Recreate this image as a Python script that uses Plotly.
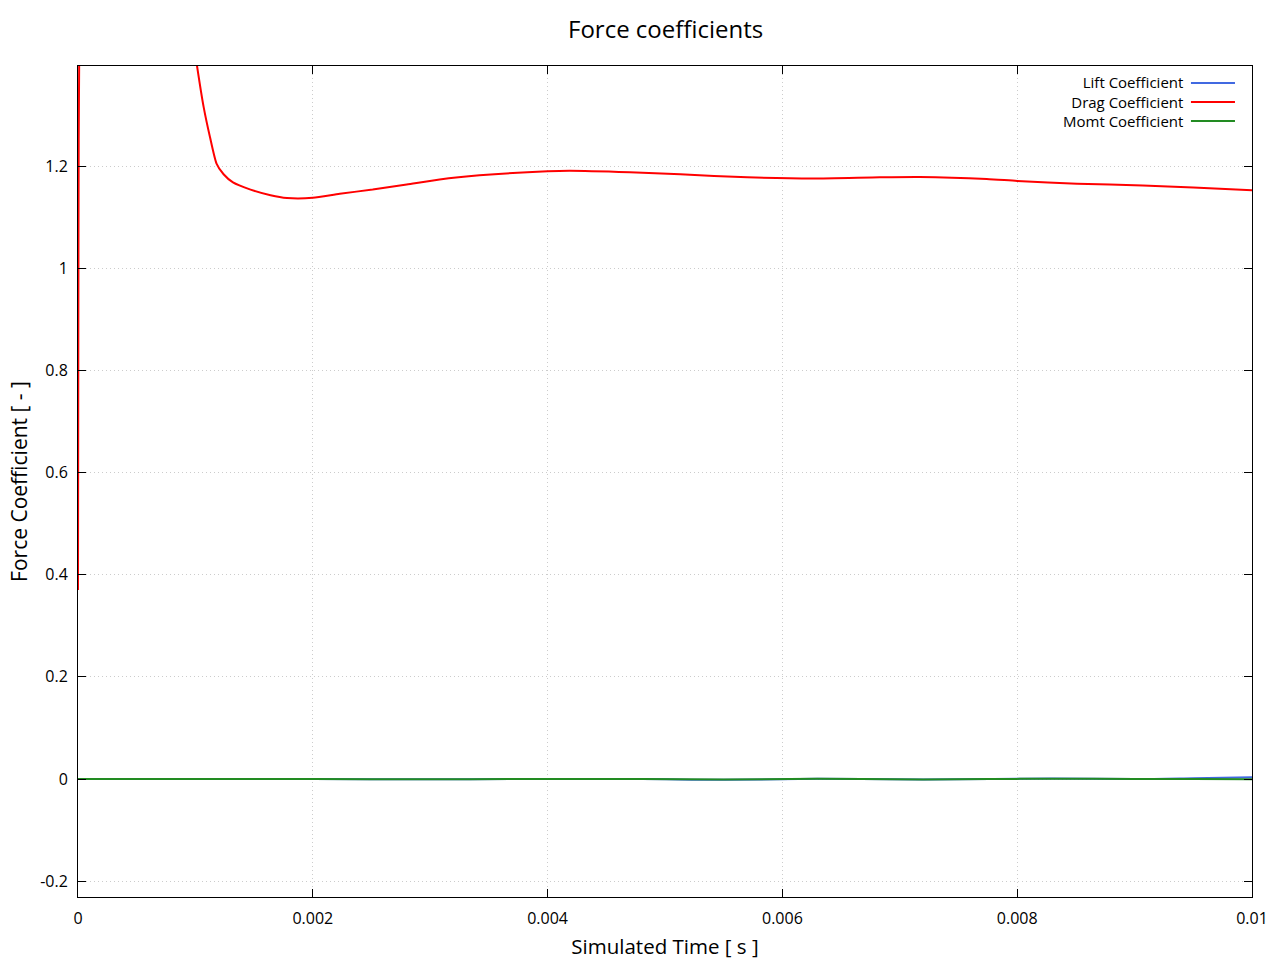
import plotly.graph_objects as go

# Drag coefficient
drag_t = [0.0, 0.000003, 0.000006, 0.00001, 0.00002, 0.00005, 0.0003, 0.0007, 0.00095,
          0.001014, 0.00107, 0.001124, 0.00118, 0.00124, 0.00132, 0.00147, 0.00164,
          0.00178, 0.0020, 0.00223, 0.00251, 0.0028, 0.00308, 0.00342, 0.0040,
          0.00419, 0.0047, 0.00513, 0.0057, 0.00626, 0.00683, 0.00717, 0.00774,
          0.0080, 0.00851, 0.00907, 0.0095, 0.0100]
drag_v = [0.37, 0.9, 1.25, 1.4, 1.8, 2.6, 2.4, 1.8, 1.5,
          1.396, 1.316, 1.257, 1.205, 1.184, 1.168, 1.154, 1.143,
          1.1376, 1.138, 1.146, 1.154, 1.164, 1.174, 1.182, 1.190,
          1.191, 1.188, 1.184, 1.178, 1.1755, 1.178, 1.1787, 1.1748,
          1.171, 1.1657, 1.162, 1.158, 1.1526]

# Lift and moment coefficients (near zero)
lm_t = [0.0, 0.001, 0.002, 0.003, 0.004, 0.0048, 0.0055, 0.0063, 0.0072,
        0.0078, 0.0083, 0.009, 0.0095, 0.0100]
lift_v = [0.0, 0.0, 0.0, -0.0005, 0.0, 0.0, -0.0015, 0.0003, -0.001,
          0.0, 0.0008, 0.0, 0.0015, 0.0035]
momt_v = [0.0, 0.0, 0.0, -0.0005, 0.0, 0.0, -0.001, 0.0003, -0.0008,
          0.0, 0.0005, 0.0, -0.0002, -0.0003]

x_ticks = [0, 0.002, 0.004, 0.006, 0.008, 0.01]
x_labels = ["0", "0.002", "0.004", "0.006", "0.008", "0.01"]
y_ticks = [-0.2, 0, 0.2, 0.4, 0.6, 0.8, 1, 1.2]
y_labels = ["-0.2", "0", "0.2", "0.4", "0.6", "0.8", "1", "1.2"]

series_names = ["Lift Coefficient", "Drag Coefficient", "Momt Coefficient"]
series_colors = ["#4169e1", "#ff0000", "#228b22"]

FONT = "Open Sans"

fig = go.Figure()
fig.add_trace(go.Scatter(x=lm_t, y=lift_v, mode="lines", name=series_names[0],
                         line=dict(color=series_colors[0], width=2, shape="spline"),
                         showlegend=False))
fig.add_trace(go.Scatter(x=drag_t, y=drag_v, mode="lines", name=series_names[1],
                         line=dict(color=series_colors[1], width=2, shape="spline", smoothing=0.6),
                         showlegend=False))
fig.add_trace(go.Scatter(x=lm_t, y=momt_v, mode="lines", name=series_names[2],
                         line=dict(color=series_colors[2], width=2, shape="spline"),
                         showlegend=False))

# Manual legend (text left of sample line, gnuplot style)
leg_y = [0.9795, 0.9567, 0.9338]
fig.add_annotation(xref="paper", yref="paper", x=0.9425, y=leg_y[1],
                   text="<br>".join(series_names), align="right",
                   showarrow=False, xanchor="right", yanchor="middle", borderpad=0,
                   font=dict(family=FONT, size=15, color="black"))
for col, yy in zip(series_colors, leg_y):
    fig.add_shape(type="line", xref="paper", yref="paper", x0=0.948, x1=0.9855,
                  y0=yy, y1=yy, line=dict(color=col, width=2))

fig.update_layout(
    width=1280, height=960,
    margin=dict(l=78, r=28, t=66, b=63),
    paper_bgcolor="white", plot_bgcolor="white",
    font=dict(family=FONT, size=16, color="black"),
    title=dict(text="Force coefficients", x=0.52, xanchor="center", y=0.969,
               yanchor="middle", font=dict(family=FONT, size=24, color="black")),
)
fig.update_xaxes(range=[0, 0.01], tickvals=x_ticks, ticktext=x_labels,
                 showline=True, linecolor="black", linewidth=1, mirror="ticks",
                 ticks="inside", ticklen=8, tickcolor="black",
                 showgrid=True, gridcolor="#cccccc", griddash="1px,3px", gridwidth=1,
                 zeroline=False, ticklabelstandoff=7, automargin=False,
                 title=dict(text="Simulated Time [ s ]", font=dict(family=FONT, size=20.5), standoff=17),
                 tickfont=dict(family=FONT, size=16))
fig.update_yaxes(range=[-0.231, 1.396], tickvals=y_ticks, ticktext=y_labels,
                 showline=True, linecolor="black", linewidth=1, mirror="ticks",
                 ticks="inside", ticklen=8, tickcolor="black",
                 showgrid=True, gridcolor="#cccccc", griddash="1px,3px", gridwidth=1,
                 zeroline=False, ticklabelstandoff=6, automargin=False,
                 title=dict(text="Force Coefficient [ - ]", font=dict(family=FONT, size=21), standoff=6),
                 tickfont=dict(family=FONT, size=16))

fig.write_html("out.html", config={"displayModeBar": False},
               post_script="document.body.style.margin='0px';")
